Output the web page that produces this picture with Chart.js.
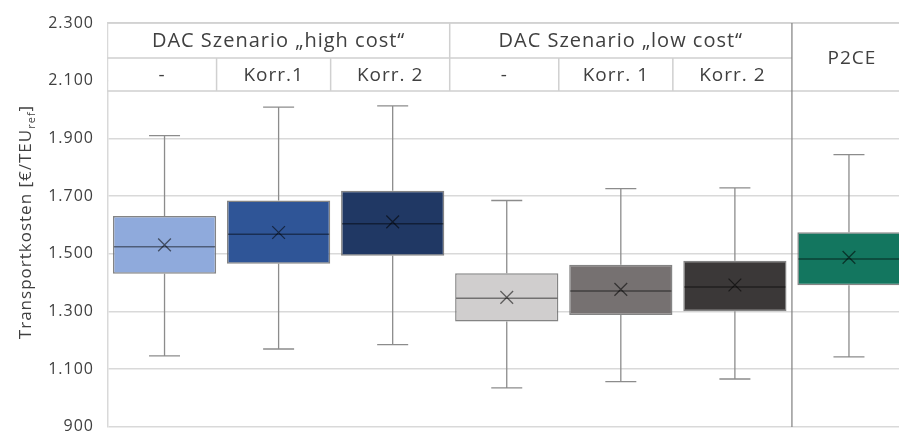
<!DOCTYPE html>
<html>
<head>
<meta charset="utf-8">
<script src="https://cdn.jsdelivr.net/npm/chart.js@4/dist/chart.umd.min.js"></script>
<style>
  html, body { margin: 0; padding: 0; background: #fff; overflow: hidden; width: 899px; height: 436px; }
  #wrap { position: absolute; left: 0; top: 0; width: 920px; height: 450px; }
</style>
</head>
<body>
<div id="wrap"><canvas id="c"></canvas></div>
<script>
// ---- data ----
const groupLabels = ['DAC Szenario \u201Ehigh cost\u201C', 'DAC Szenario \u201Elow cost\u201C', 'P2CE'];
const subLabels = ['-', 'Korr.1', 'Korr. 2', '-', 'Korr. 1', 'Korr. 2', 'P2CE'];
const whiskerMin = [1146, 1170, 1185, 1035, 1057, 1066, 1143];
const q1Values   = [1431, 1466, 1493, 1265, 1288, 1301, 1391];
const medians    = [1525, 1568, 1604, 1346, 1371, 1385, 1482];
const q3Values   = [1631, 1685, 1719, 1433, 1462, 1476, 1575];
const whiskerMax = [1910, 2009, 2013, 1685, 1726, 1729, 1844];
const means      = [1531, 1574, 1611, 1349, 1377, 1392, 1488];
const yTicks     = [900, 1100, 1300, 1500, 1700, 1900, 2100, 2300];
const yTitle     = 'Transportkosten [\u20AC/TEU';
const yTitleSub  = 'ref';
const boxColors  = ['#8FAADC', '#2F5597', '#203864', '#D0CECE', '#767171', '#3B3838', '#13765F'];

const FONT = "'Open Sans', 'Noto Sans', sans-serif";
const TXT = '#404040';

const boxPlugin = {
  id: 'boxParts',
  beforeDraw(chart) { chart.ctx.letterSpacing = '1px'; },
  beforeDatasetsDraw(chart) {
    const ctx = chart.ctx, y = chart.scales.y;
    const meta = chart.getDatasetMeta(1);
    ctx.save();
    ctx.strokeStyle = '#8c8c8c';
    ctx.lineWidth = 1.3;
    meta.data.forEach((bar, i) => {
      const x = bar.x;
      const yMax = y.getPixelForValue(whiskerMax[i]);
      const yMin = y.getPixelForValue(whiskerMin[i]);
      const yQ1 = y.getPixelForValue(q1Values[i]);
      const yQ3 = y.getPixelForValue(q3Values[i]);
      ctx.beginPath();
      ctx.moveTo(x, yMax); ctx.lineTo(x, yQ3);
      ctx.moveTo(x, yQ1); ctx.lineTo(x, yMin);
      ctx.moveTo(x - 15.5, yMax); ctx.lineTo(x + 15.5, yMax);
      ctx.moveTo(x - 15.5, yMin); ctx.lineTo(x + 15.5, yMin);
      ctx.stroke();
    });
    ctx.restore();
  },
  afterDatasetDraw(chart, args) {
    if (args.index !== 1) return;
    const ctx = chart.ctx, y = chart.scales.y;
    ctx.save();
    ctx.strokeStyle = 'rgba(0,0,0,0.45)';
    ctx.lineWidth = 1.5;
    args.meta.data.forEach((bar, i) => {
      const ym = y.getPixelForValue(medians[i]);
      ctx.beginPath();
      ctx.moveTo(bar.x - bar.width / 2 + 1, ym);
      ctx.lineTo(bar.x + bar.width / 2 - 1, ym);
      ctx.stroke();
    });
    ctx.restore();
  },
  afterDraw(chart) {
    const ctx = chart.ctx, xs = chart.scales.x, ca = chart.chartArea;
    const cx = i => xs.getPixelForValue(i);
    const bnd = i => (cx(i) + cx(i + 1)) / 2;
    const top = ca.top, mid = top + 35, bot = top + 68;
    const left = ca.left, right = 920;
    ctx.save();
    ctx.letterSpacing = '1px';
    // table background
    ctx.fillStyle = '#ffffff';
    ctx.fillRect(left + 1, top + 1, right - left, bot - top - 1);
    ctx.strokeStyle = '#d0d0d0';
    ctx.lineWidth = 1.5;
    ctx.beginPath();
    ctx.moveTo(left, top); ctx.lineTo(right, top);
    ctx.moveTo(left, mid); ctx.lineTo(bnd(5), mid);
    ctx.moveTo(left, bot); ctx.lineTo(right, bot);
    ctx.moveTo(bnd(2), top); ctx.lineTo(bnd(2), bot);
    [0, 1, 3, 4].forEach(i => { ctx.moveTo(bnd(i) - 5, mid); ctx.lineTo(bnd(i) - 5, bot); });
    ctx.stroke();
    // texts
    ctx.fillStyle = TXT;
    ctx.textAlign = 'center';
    ctx.textBaseline = 'middle';
    ctx.font = '20px ' + FONT;
    ctx.fillText(groupLabels[0], (left + bnd(2)) / 2, (top + mid) / 2 + 1);
    ctx.fillText(groupLabels[1], (bnd(2) + bnd(5)) / 2, (top + mid) / 2 + 1);
    ctx.font = '19px ' + FONT;
    const edges = [left, bnd(0) - 5, bnd(1) - 5, bnd(2), bnd(3) - 5, bnd(4) - 5, bnd(5)];
    for (let i = 0; i < 6; i++) {
      ctx.fillText(subLabels[i], (edges[i] + edges[i + 1]) / 2, (mid + bot) / 2 + 1);
    }
    ctx.fillText(groupLabels[2], cx(6) + 3, (top + bot) / 2 + 1);
    // separator
    ctx.strokeStyle = '#7f7f7f';
    ctx.lineWidth = 1.2;
    ctx.beginPath();
    ctx.moveTo(bnd(5), top); ctx.lineTo(bnd(5), ca.bottom);
    ctx.stroke();
    // y axis title with subscript
    ctx.translate(31, 222);
    ctx.rotate(-Math.PI / 2);
    ctx.textAlign = 'left';
    ctx.textBaseline = 'alphabetic';
    ctx.font = '17px ' + FONT;
    const w1 = ctx.measureText(yTitle).width;
    const w3 = ctx.measureText(']').width;
    ctx.font = '11px ' + FONT;
    const w2 = ctx.measureText(yTitleSub).width;
    const total = w1 + w2 + w3;
    let x0 = -total / 2;
    ctx.font = '17px ' + FONT;
    ctx.fillText(yTitle, x0, 0);
    ctx.font = '11px ' + FONT;
    ctx.fillText(yTitleSub, x0 + w1, 4);
    ctx.font = '17px ' + FONT;
    ctx.fillText(']', x0 + w1 + w2, 0);
    ctx.restore();
  }
};

new Chart(document.getElementById('c'), {
  type: 'bar',
  data: {
    labels: subLabels,
    datasets: [
      {
        type: 'line',
        data: means,
        showLine: false,
        pointStyle: 'crossRot',
        pointRadius: 9,
        pointHoverRadius: 9,
        borderColor: 'rgba(0,0,0,0.55)',
        pointBorderWidth: 1.3,
        backgroundColor: 'transparent',
        order: 0
      },
      {
        type: 'bar',
        data: q1Values.map((q, i) => [q, q3Values[i]]),
        backgroundColor: boxColors,
        borderColor: 'rgba(110,110,110,0.85)',
        borderWidth: 1.5,
        borderSkipped: false,
        categoryPercentage: 1,
        barPercentage: 0.905,
        order: 1
      }
    ]
  },
  options: {
    responsive: true,
    maintainAspectRatio: false,
    animation: false,
    events: [],
    layout: { padding: { top: 21.5, bottom: 19, left: 0, right: 14 } },
    plugins: { legend: { display: false }, tooltip: { enabled: false } },
    scales: {
      x: { display: false, offset: true },
      y: {
        min: 900, max: 2300,
        afterBuildTicks: s => { s.ticks = yTicks.map(v => ({ value: v })); },
        afterFit: s => { s.width = 107.5; },
        ticks: {
          padding: 13.5,
          color: TXT,
          font: { family: FONT, size: 16 },
          callback: v => v.toLocaleString('de-DE')
        },
        grid: { color: '#d9d9d9', lineWidth: 1.5, drawTicks: false },
        border: { color: '#d9d9d9', width: 1.5 }
      }
    }
  },
  plugins: [boxPlugin]
});
</script>
</body>
</html>
